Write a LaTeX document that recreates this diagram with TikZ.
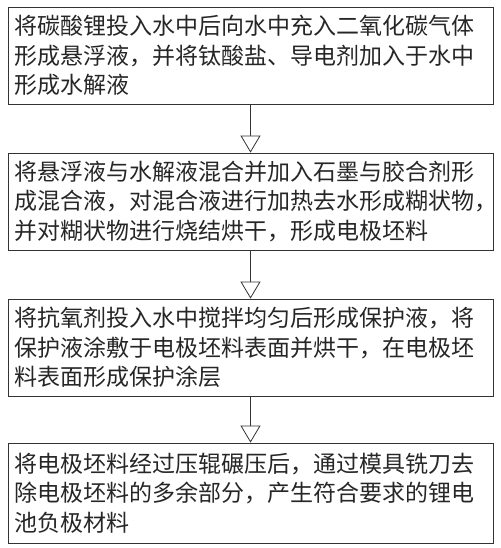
\documentclass[tikz,border=0pt]{standalone}
\usepackage{fontspec}
\usepackage{xcolor}
\usetikzlibrary{arrows.meta,positioning}
\newfontfamily\cjk{Noto Sans CJK SC}

\begin{document}
\begin{tikzpicture}[x=1pt, y=-1pt,
    stepbox/.style={rectangle, draw=black!80, line width=0.8pt, minimum width=485pt, minimum height=97pt, text width=473pt, inner sep=0pt, align=left, font=\cjk\fontsize{23}{29.5}\selectfont, text=black!85},
    arrow/.style={-{Triangle[open, width=20pt, length=17pt, fill=white]}, draw=black!80, line width=0.8pt}
]
    \useasboundingbox (0,0) rectangle (500,548);

    % Steps
    \node[stepbox] (mix) at (250.5,55.5) {将碳酸锂投入水中后向水中充入二氧化碳气体\\形成悬浮液，并将钛酸盐、导电剂加入于水中\\形成水解液};
    \node[stepbox] (blank) at (250.5,201.5) {将悬浮液与水解液混合并加入石墨与胶合剂形\\成混合液，对混合液进行加热去水形成糊状物\rlap{，}\\并对糊状物进行烧结烘干，形成电极坯料};
    \node[stepbox] (coat) at (250.5,347.5) {将抗氧剂投入水中搅拌均匀后形成保护液，将\\保护液涂敷于电极坯料表面并烘干，在电极坯\\料表面形成保护涂层};
    \node[stepbox, minimum height=100pt] (press) at (250.5,493) {将电极坯料经过压辊碾压后，通过模具铣刀去\\除电极坯料的多余部分，产生符合要求的锂电\\池负极材料};

    % Arrows
    \draw[arrow] (mix) -- (blank);
    \draw[arrow] (blank) -- (coat);
    \draw[arrow] (coat) -- (press);
\end{tikzpicture}
\end{document}
